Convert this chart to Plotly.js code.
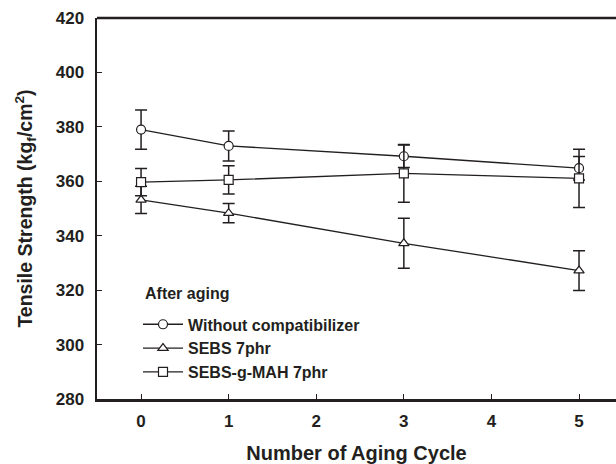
<!DOCTYPE html>
<html>
<head>
<meta charset="utf-8">
<script src="https://cdn.plot.ly/plotly-3.0.1.min.js"></script>
<style>html,body{margin:0;padding:0;background:#fff;}#chart{width:616px;height:464px;}</style>
</head>
<body>
<div id="chart"></div>
<script>
var cycles = [0, 1, 3, 5];
var withoutComp = [379, 373, 369.2, 364.8];
var withoutCompErr = [7.2, 5.5, 4.1, 4.3];
var sebs = [353.2, 348.3, 337.2, 327.2];
var sebsErr = [5, 3.5, 9.2, 7.3];
var sebsMah = [359.7, 360.5, 362.9, 361.1];
var sebsMahErr = [5, 5.2, 10.6, 10.7];
var seriesNames = ['Without compatibilizer', 'SEBS 7phr', 'SEBS-g-MAH 7phr'];
var yTicks = [280, 300, 320, 340, 360, 380, 400, 420];
var xTicks = [0, 1, 2, 3, 4, 5];

var ink = '#231f20';
var fontFam = 'Arial, "Liberation Sans", Helvetica, sans-serif';

function trace(y, err, name, symbol) {
  return {
    x: cycles, y: y, name: name, type: 'scatter', mode: 'lines+markers',
    line: {color: ink, width: 1.3},
    marker: {symbol: symbol, size: 9, color: '#ffffff', line: {color: ink, width: 1.2}},
    error_y: {type: 'data', array: err, visible: true, color: ink, thickness: 1.5, width: 6}
  };
}

var data = [
  trace(withoutComp, withoutCompErr, seriesNames[0], 'circle'),
  trace(sebs, sebsErr, seriesNames[1], 'triangle-up'),
  trace(sebsMah, sebsMahErr, seriesNames[2], 'square')
];

var layout = {
  width: 616, height: 464,
  margin: {l: 97, r: 0, t: 18, b: 65},
  paper_bgcolor: '#ffffff', plot_bgcolor: '#ffffff',
  font: {family: fontFam, color: ink, size: 16, weight: 'bold'},
  showlegend: true,
  legend: {
    x: 0.079, y: 0.2405, xanchor: 'left', yanchor: 'top',
    bgcolor: 'rgba(0,0,0,0)', borderwidth: 0,
    traceorder: 'normal',
    font: {family: fontFam, size: 16, color: ink, weight: 'bold'},
    itemwidth: 40
  },
  xaxis: {
    range: [-0.503, 5.422], tickvals: xTicks, ticktext: xTicks.map(String),
    ticks: 'inside', ticklen: 5, tickwidth: 1, tickcolor: ink,
    showline: true, linewidth: 2.5, linecolor: ink, mirror: false,
    showgrid: false, zeroline: false,
    tickfont: {family: fontFam, size: 17, color: ink, weight: 'bold'},
    ticklabelstandoff: 5,
    title: {text: 'Number of Aging Cycle', font: {family: fontFam, size: 20, color: ink, weight: 'bold'}, standoff: 20}
  },
  yaxis: {
    range: [280, 420], tickvals: yTicks, ticktext: yTicks.map(String),
    ticks: 'inside', ticklen: 5, tickwidth: 1, tickcolor: ink,
    showline: true, linewidth: 2.5, linecolor: ink, mirror: false,
    showgrid: false, zeroline: false,
    tickfont: {family: fontFam, size: 17, color: ink, weight: 'bold'},
    ticklabelstandoff: 7,
    title: {text: 'Tensile Strength (kg<sub>f</sub>/cm<sup>2</sup>)', font: {family: fontFam, size: 19.5, color: ink, weight: 'bold'}, standoff: 18}
  },
  shapes: [
    {type: 'line', xref: 'paper', yref: 'paper', x0: 0, x1: 1, y0: 1, y1: 1, line: {color: ink, width: 2.5}}
  ],
  annotations: [
    {text: 'After aging', xref: 'paper', yref: 'paper', x: 0.089, y: 0.278, xanchor: 'left', yanchor: 'middle',
     showarrow: false, font: {family: fontFam, size: 16, color: ink, weight: 'bold'}}
  ]
};

Plotly.newPlot('chart', data, layout, {displayModeBar: false, staticPlot: true});
</script>
</body>
</html>
